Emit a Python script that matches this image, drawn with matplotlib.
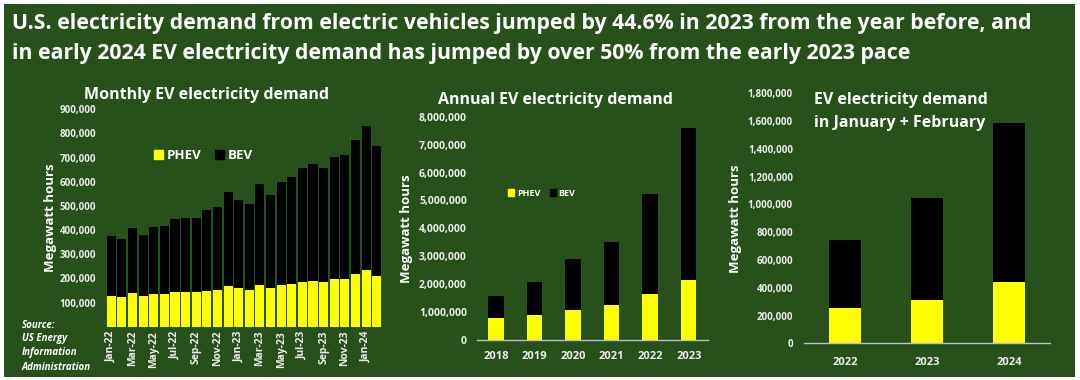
import matplotlib
matplotlib.use("Agg")
import matplotlib.pyplot as plt
from matplotlib.patches import Rectangle, Patch
from matplotlib.ticker import FuncFormatter
import numpy as np

# ---------------- data ----------------
months = ['Jan-22', 'Feb-22', 'Mar-22', 'Apr-22', 'May-22', 'Jun-22', 'Jul-22', 'Aug-22',
          'Sep-22', 'Oct-22', 'Nov-22', 'Dec-22', 'Jan-23', 'Feb-23', 'Mar-23', 'Apr-23',
          'May-23', 'Jun-23', 'Jul-23', 'Aug-23', 'Sep-23', 'Oct-23', 'Nov-23', 'Dec-23',
          'Jan-24', 'Feb-24']
monthly_phev = [128000, 124000, 138000, 127000, 134000, 134000, 142000, 142000,
                142000, 149000, 152000, 168000, 161000, 154000, 174000, 161000,
                172000, 175000, 186000, 190000, 186000, 197000, 197000, 217000,
                235000, 210000]
monthly_bev = [247000, 241000, 270000, 254000, 278000, 284000, 302000, 310000,
               310000, 334000, 343000, 389000, 365000, 356000, 418000, 384000,
               429000, 443000, 473000, 484000, 473000, 505000, 515000, 555000,
               596000, 538000]

years = ['2018', '2019', '2020', '2021', '2022', '2023']
annual_phev = [776000, 884000, 1075000, 1240000, 1660000, 2150000]
annual_bev = [800000, 1182000, 1815000, 2280000, 3580000, 5440000]

janfeb_years = ['2022', '2023', '2024']
janfeb_phev = [252000, 312000, 444000]
janfeb_bev = [492000, 732000, 1140000]

# ---------------- style ----------------
W, H = 1080, 380
GREEN = '#27501B'
YELLOW = '#FFFF00'
BLACK = '#000000'
WHITE = '#FFFFFF'
TICKC = '#EDEDED'
FONT = ['Open Sans', 'DejaVu Sans']
plt.rcParams['font.family'] = FONT

fig = plt.figure(figsize=(W / 100, H / 100), dpi=100, facecolor='white')
fig.patches.append(Rectangle((4 / W, 1 - 377 / H), (1075 - 4) / W, (377 - 4) / H,
                             transform=fig.transFigure, facecolor=GREEN,
                             edgecolor='none', zorder=-10))


def px_axes(x0, x1, ytop, ybot):
    return fig.add_axes([x0 / W, 1 - ybot / H, (x1 - x0) / W, (ybot - ytop) / H])


def ftext(x, y, s, **kw):
    fig.text(x / W, 1 - y / H, s, **kw)


fmt = FuncFormatter(lambda v, p: f'{v:,.0f}')


def style_axes(ax, baseline=True, ysize=7, xsize=8):
    ax.set_facecolor('none')
    for s in ['top', 'right', 'left']:
        ax.spines[s].set_visible(False)
    if baseline:
        ax.spines['bottom'].set_color('#BFBFBF')
        ax.spines['bottom'].set_linewidth(1)
    else:
        ax.spines['bottom'].set_visible(False)
    ax.tick_params(length=0, colors=TICKC)
    ax.tick_params(axis='y', labelsize=ysize)
    ax.tick_params(axis='x', labelsize=xsize)
    ax.yaxis.set_major_formatter(fmt)
    for lab in ax.get_yticklabels() + ax.get_xticklabels():
        lab.set_fontweight('bold')


# ---------------- title ----------------
ftext(12, 24, 'U.S. electricity demand from electric vehicles jumped by 44.6% in 2023 from the year before, and',
      color=WHITE, fontsize=15.3, fontweight='bold', va='center', ha='left')
ftext(12, 53, 'in early 2024 EV electricity demand has jumped by over 50% from the early 2023 pace',
      color=WHITE, fontsize=15.3, fontweight='bold', va='center', ha='left')

# ---------------- monthly ----------------
ax1 = px_axes(106, 382, 109.3, 326.7)
x = np.arange(len(months))
ax1.bar(x, monthly_phev, width=0.86, color=YELLOW, label='PHEV')
ax1.bar(x, monthly_bev, width=0.86, bottom=monthly_phev, color=BLACK, label='BEV')
ax1.set_ylim(0, 900000)
ax1.set_xlim(-0.5, len(months) - 0.5)
ax1.set_yticks(np.arange(100000, 900001, 100000))
ax1.set_xticks(x[::2])
ax1.set_xticklabels(months[::2], rotation=90)
style_axes(ax1, baseline=False, ysize=7, xsize=7.5)
ax1.tick_params(axis='y', pad=7)
ax1.tick_params(axis='x', pad=3)
ax1.set_ylabel('Megawatt hours', color=WHITE, fontsize=9.5, fontweight='bold', labelpad=2)
ax1.legend(handles=[Patch(color=YELLOW, label='PHEV'), Patch(color=BLACK, label='BEV')],
           ncol=2, frameon=False, loc='center left',
           bbox_to_anchor=(142 / W, 1 - 156 / H), bbox_transform=fig.transFigure,
           prop={'weight': 'bold', 'size': 9.5, 'family': FONT}, labelcolor=WHITE,
           handlelength=0.7, handleheight=0.7, handletextpad=0.3, columnspacing=1.0)
ftext(207, 95, 'Monthly EV electricity demand', color=WHITE, fontsize=11.5,
      fontweight='bold', ha='center', va='center')
for i, line in enumerate(['Source:', 'US Energy', 'Information', 'Administration']):
    ftext(22, 325 + i * 14, line, color=WHITE, fontsize=7, fontweight='bold',
          style='italic', ha='left', va='center')

# ---------------- annual ----------------
ax2 = px_axes(476.7, 708, 116.7, 340)
x2 = np.arange(len(years))
ax2.bar(x2, annual_phev, width=0.4, color=YELLOW)
ax2.bar(x2, annual_bev, width=0.4, bottom=annual_phev, color=BLACK)
ax2.set_ylim(0, 8000000)
ax2.set_xlim(-0.5, len(years) - 0.5)
ax2.set_yticks(np.arange(0, 8000001, 1000000))
ax2.set_xticks(x2)
ax2.set_xticklabels(years)
style_axes(ax2, ysize=7.5, xsize=8)
ax2.tick_params(axis='y', pad=7)
ax2.tick_params(axis='x', pad=8)
ax2.set_ylabel('Megawatt hours', color=WHITE, fontsize=9.5, fontweight='bold', labelpad=4)
ax2.legend(handles=[Patch(color=YELLOW, label='PHEV'), Patch(color=BLACK, label='BEV')],
           ncol=2, frameon=False, loc='center left',
           bbox_to_anchor=(500 / W, 1 - 193 / H), bbox_transform=fig.transFigure,
           prop={'weight': 'bold', 'size': 6.5, 'family': FONT}, labelcolor=WHITE,
           handlelength=0.7, handleheight=0.7, handletextpad=0.3, columnspacing=1.0)
ftext(555, 100, 'Annual EV electricity demand', color=WHITE, fontsize=11.5,
      fontweight='bold', ha='center', va='center')

# ---------------- Jan + Feb ----------------
ax3 = px_axes(804, 1050, 93.3, 343.3)
x3 = np.arange(len(janfeb_years))
ax3.bar(x3, janfeb_phev, width=0.39, color=YELLOW)
ax3.bar(x3, janfeb_bev, width=0.39, bottom=janfeb_phev, color=BLACK)
ax3.set_ylim(0, 1800000)
ax3.set_xlim(-0.5, len(janfeb_years) - 0.5)
ax3.set_yticks(np.arange(0, 1800001, 200000))
ax3.set_xticks(x3)
ax3.set_xticklabels(janfeb_years)
style_axes(ax3, ysize=7, xsize=8)
ax3.tick_params(axis='y', pad=8)
ax3.tick_params(axis='x', pad=10)
ax3.set_ylabel('Megawatt hours', color=WHITE, fontsize=9.5, fontweight='bold', labelpad=4)
ftext(814, 100, 'EV electricity demand', color=WHITE, fontsize=11.5,
      fontweight='bold', ha='left', va='center')
ftext(814, 123, 'in January + February', color=WHITE, fontsize=11.5,
      fontweight='bold', ha='left', va='center')

fig.savefig('out.png', dpi=100, facecolor='white')
